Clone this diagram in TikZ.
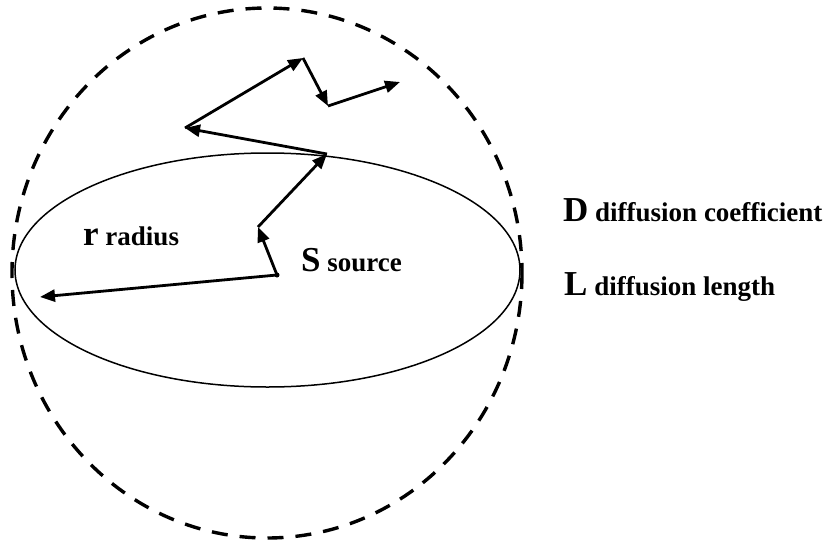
\documentclass[tikz,border=0pt]{standalone}
\usepackage{fontspec}
\setmainfont{Liberation Serif}
\usetikzlibrary{arrows.meta}

\begin{document}
\begin{tikzpicture}[x=1pt, y=-1pt]
              \tikzset{
                  walk/.style={line width=2.8pt, -{Triangle[length=15pt, width=12pt]}},
                  lbl/.style={anchor=base west, inner sep=0pt, font=\bfseries\fontsize{27}{27}\selectfont}
              }
              \useasboundingbox (0,0) rectangle (831,544);

              % Esfera de difusión y fuente
              \draw[line width=3.4pt, dash pattern=on 16pt off 12pt] (267,273) ellipse [x radius=255, y radius=265];
              \draw[line width=1.5pt] (267.5,270) ellipse [x radius=252.5, y radius=117];

              % Puntos del camino aleatorio
              \coordinate (s0) at (277,275);
              \coordinate (w1) at (40,297);
              \coordinate (w2) at (258,227);
              \coordinate (w3) at (327,154);
              \coordinate (w4) at (185,128);
              \coordinate (w5) at (303,58);
              \coordinate (w6) at (328,106);
              \coordinate (w7) at (400,82);

              % Pasos del camino
              \draw[walk] (s0) -- (w1);
              \draw[walk] (s0) -- (w2);
              \draw[walk] (w2) -- (w3);
              \draw[walk] (w3) -- (w4);
              \draw[walk] (w4) -- (w5);
              \draw[walk] (w5) -- (w6);
              \draw[walk] (w6) -- (w7);
              \fill (s0) circle (2.5pt);

              % Etiquetas
              \node[lbl] (radius) at (83,245) {{\fontsize{35}{35}\selectfont r} radius};
              \node[lbl] (source) at (301,271) {{\fontsize{35}{35}\selectfont S} source};
              \node[lbl] (coef) at (563,221) {{\fontsize{35}{35}\selectfont D} diffusion coefficient};
              \node[lbl] (length) at (564,295) {{\fontsize{35}{35}\selectfont L} diffusion length};

          \end{tikzpicture}
\end{document}
